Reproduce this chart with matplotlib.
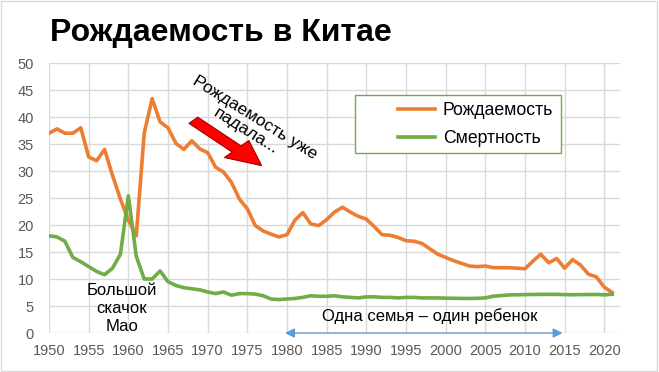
import matplotlib.pyplot as plt
from matplotlib.patches import FancyArrow, Rectangle

plt.rcParams['font.family'] = ['Liberation Sans', 'DejaVu Sans']

years = list(range(1950, 2022))

births = [37.0, 37.8, 37.0, 37.0, 38.0, 32.6, 31.9, 34.0, 29.2, 24.8,
          20.9, 18.0, 37.0, 43.4, 39.1, 38.0, 35.1, 34.0, 35.6, 34.1,
          33.4, 30.7, 29.8, 27.9, 24.8, 23.0, 19.9, 18.9, 18.3, 17.8,
          18.2, 20.9, 22.3, 20.2, 19.9, 21.0, 22.4, 23.3, 22.4, 21.6,
          21.1, 19.7, 18.2, 18.1, 17.7, 17.1, 17.0, 16.6, 15.6, 14.6,
          14.0, 13.4, 12.9, 12.4, 12.3, 12.4, 12.1, 12.1, 12.1, 12.0,
          11.9, 13.3, 14.6, 13.0, 13.8, 12.0, 13.6, 12.6, 10.9, 10.4,
          8.5, 7.5]

deaths = [18.0, 17.8, 17.0, 14.0, 13.2, 12.3, 11.4, 10.8, 12.0, 14.6,
          25.4, 14.2, 10.0, 10.0, 11.5, 9.5, 8.8, 8.4, 8.2, 8.0,
          7.6, 7.3, 7.6, 7.0, 7.3, 7.3, 7.2, 6.9, 6.3, 6.2,
          6.3, 6.4, 6.6, 6.9, 6.8, 6.8, 6.9, 6.7, 6.6, 6.5,
          6.7, 6.7, 6.6, 6.6, 6.5, 6.6, 6.6, 6.5, 6.5, 6.5,
          6.45, 6.43, 6.41, 6.40, 6.42, 6.51, 6.81, 6.93, 7.06, 7.08,
          7.11, 7.14, 7.15, 7.16, 7.16, 7.11, 7.09, 7.11, 7.13, 7.14,
          7.07, 7.18]

x_ticks = list(range(1950, 2021, 5))
y_ticks = list(range(0, 51, 5))

fig = plt.figure(figsize=(6.59, 3.72), dpi=100)
ax = fig.add_axes([0.0744, 0.1048, 0.8666, 0.7258])

ax.plot(years, births, color='#ED7D31', lw=2.6, label='Рождаемость', solid_joinstyle='round')
ax.plot(years, deaths, color='#70AD47', lw=2.6, label='Смертность', solid_joinstyle='round')

ax.set_xlim(1950, 2022)
ax.set_ylim(0, 50)
ax.set_xticks(x_ticks)
ax.set_yticks(y_ticks)
ax.grid(True, color='#d9d9d9', lw=1)
ax.set_axisbelow(True)
for s in ax.spines.values():
    s.set_visible(False)
ax.tick_params(length=0, colors='#595959', labelsize=10.5)
ax.tick_params(axis='y', pad=11)
ax.tick_params(axis='x', pad=8)

# legend box is wider than the entries, so draw the frame separately
ax.add_patch(Rectangle((0.536, 0.667), 0.361, 0.214, transform=ax.transAxes,
                       facecolor='white', edgecolor='#70AD47', lw=1, zorder=5))
leg = ax.legend(loc='center left', bbox_to_anchor=(0.611, 0.772), fontsize=12.7,
                frameon=False, handlelength=2.1, handletextpad=0.45,
                borderpad=0, labelspacing=0.62, borderaxespad=0)
leg.set_zorder(6)

# red arrow: birth rate already falling
ax.add_patch(FancyArrow(1968.2, 39.4, 8.6, -8.4, width=1.6, head_width=4.4,
                        head_length=4.4, length_includes_head=True,
                        facecolor='#FF0000', edgecolor='#A00000', lw=0.8,
                        zorder=4))
ax.text(1975.4, 38.6, 'Рождаемость уже\nпадала...', rotation=-32,
        rotation_mode='anchor', ha='center', va='center', fontsize=12.5,
        linespacing=1.05)

ax.text(1959.2, 4.6, 'Большой\nскачок\nМао', ha='center', va='center',
        fontsize=12, linespacing=1.25)

ax.annotate('', xy=(1979.4, 0), xytext=(2015.1, 0),
            arrowprops=dict(arrowstyle='<|-|>', color='#5B9BD5', lw=1,
                            mutation_scale=14), annotation_clip=False)
ax.text(1998, 3.1, 'Одна семья – один ребенок', ha='center', va='center',
        fontsize=12)

fig.text(0.076, 0.89, 'Рождаемость в Китае', fontsize=23, fontweight='bold',
         ha='left', va='baseline')

fig.patches.append(Rectangle((0.001, 0.003), 0.996, 0.994, transform=fig.transFigure,
                             fill=False, edgecolor='#d9d9d9', lw=1))

fig.savefig('out.png', dpi=100)
